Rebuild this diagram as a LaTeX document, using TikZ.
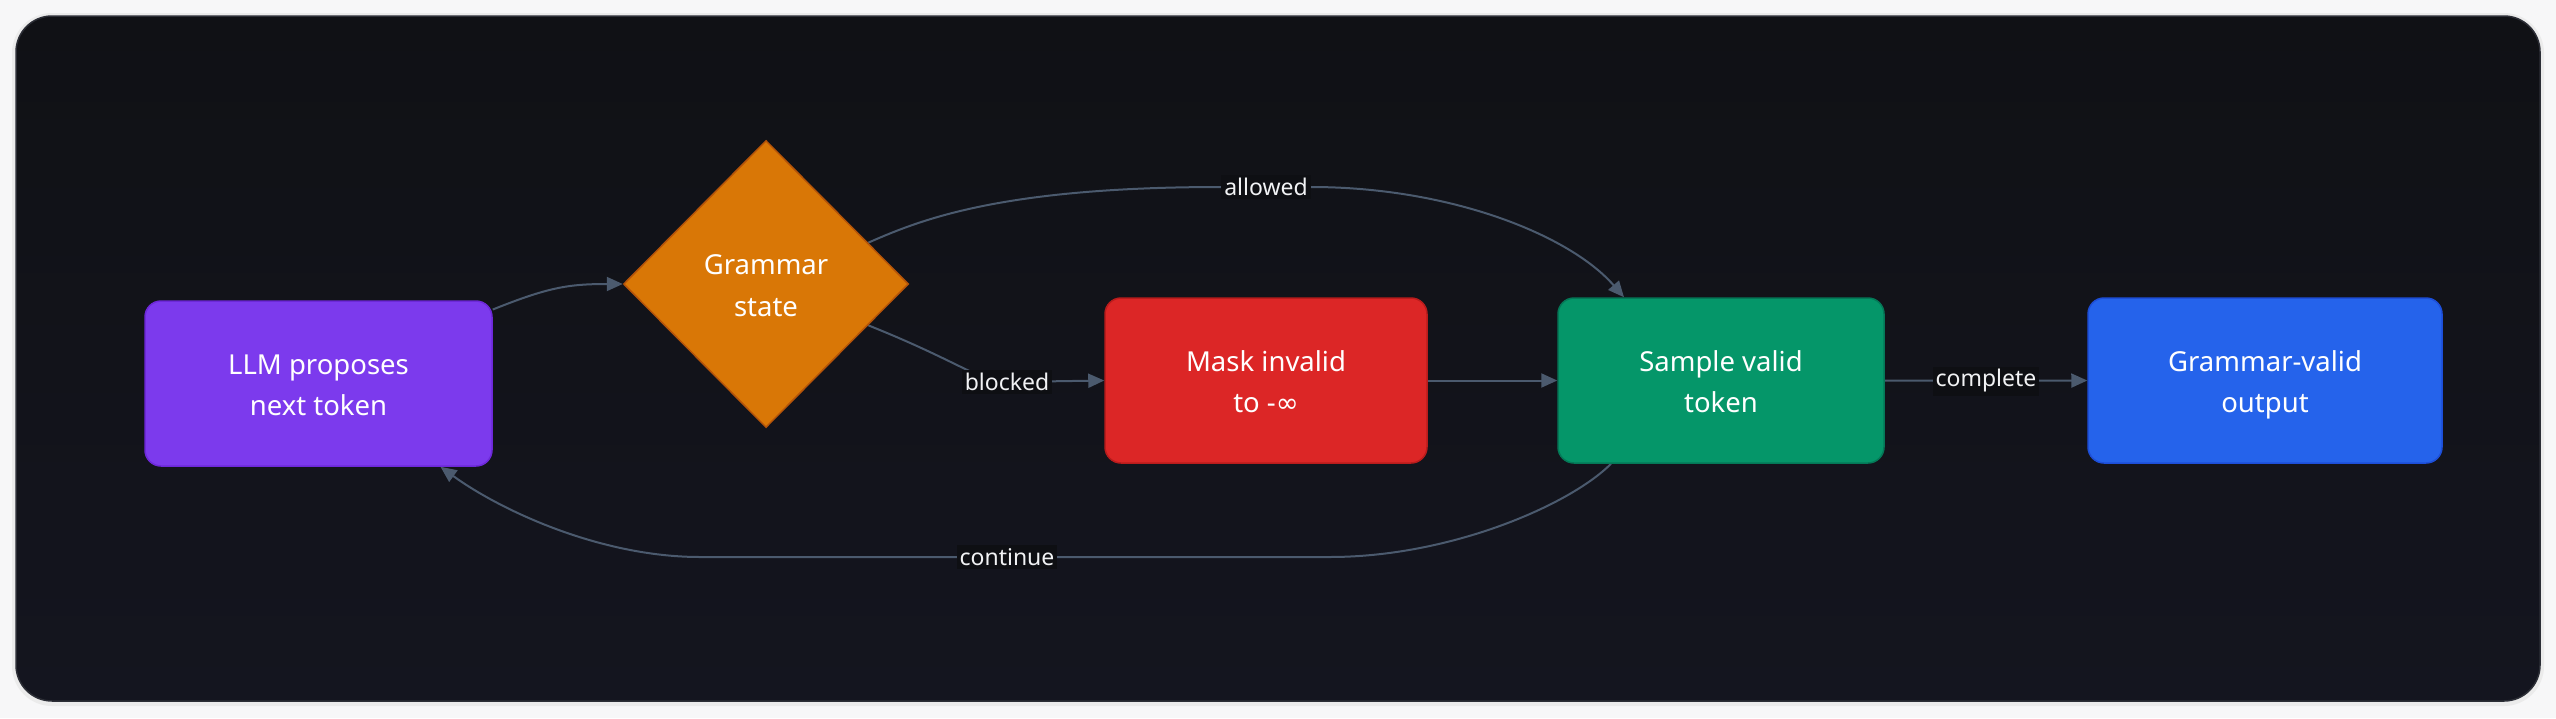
\documentclass[tikz,border=0pt]{standalone}
\usepackage{fontspec}
\setmainfont{Noto Sans}
\newfontfamily\symbfont{DejaVu Sans}
\usetikzlibrary{shapes.geometric,arrows.meta,calc}
\definecolor{pagebg}{HTML}{F7F7F8}
\definecolor{paneltop}{HTML}{101115}
\definecolor{panelbot}{HTML}{14151F}
\definecolor{panelrule}{HTML}{2C2E36}
\definecolor{edgecol}{HTML}{4B5A6E}
\definecolor{lblbg}{HTML}{0E0F13}
\definecolor{lbltext}{HTML}{F1F2F4}
\definecolor{cpurple}{HTML}{7C3AED}
\definecolor{bpurple}{HTML}{6D28D9}
\definecolor{corange}{HTML}{D97706}
\definecolor{borange}{HTML}{B45309}
\definecolor{cred}{HTML}{DC2626}
\definecolor{bred}{HTML}{B91C1C}
\definecolor{cgreen}{HTML}{059669}
\definecolor{bgreen}{HTML}{047857}
\definecolor{cblue}{HTML}{2563EB}
\definecolor{bblue}{HTML}{1D4ED8}
\newcommand\lowtext[1]{\raisebox{-3pt}[\height][\depth]{\begin{tabular}{@{}c@{}}#1\end{tabular}}}
\pgfdeclarelayer{bglayer}
\pgfdeclarelayer{edgelayer}
\pgfsetlayers{bglayer,edgelayer,main}
\tikzset{
  stepbox/.style={rectangle, rounded corners=16pt, minimum height=165pt,
    text=white, inner sep=0pt, line width=1.5pt,
    font=\fontsize{27.5}{41}\selectfont},
  decbox/.style={diamond, aspect=1, minimum width=285pt, minimum height=287pt,
    inner sep=0pt, text=white, line width=1.5pt,
    font=\fontsize{27.5}{42}\selectfont},
  lbl/.style={fill=lblbg, text=lbltext, inner sep=3pt,
    font=\fontsize{23}{26}\selectfont},
  edge/.style={draw=edgecol, line width=2pt, -{Triangle[length=16pt,width=14pt]}},
}
\begin{document}
\begin{tikzpicture}[x=1pt,y=-1pt]
\begin{pgfonlayer}{bglayer}
  \fill[pagebg] (0,0) rectangle (2556,718);
  \draw[line width=4pt, black!8, rounded corners=38pt] (14,15) rectangle (2542,704);
  \shade[top color=paneltop, bottom color=panelbot, rounded corners=36pt]
    (16,16) rectangle (2540,701);
  \draw[panelrule, line width=1.5pt, rounded corners=36pt] (16,16) rectangle (2540,701);
\end{pgfonlayer}

\node[stepbox, fill=cpurple, draw=bpurple, minimum width=347pt] (llm) at (318.5,383.5)
  {\lowtext{LLM proposes\\next token}};
\node[decbox, fill=corange, draw=borange] (gram) at (766,284) {\lowtext{Grammar\\state}};
\node[stepbox, fill=cred, draw=bred, minimum width=322pt] (mask) at (1266,380.5)
  {\lowtext{Mask invalid\\to -{\symbfont ∞}}};
\node[stepbox, fill=cgreen, draw=bgreen, minimum width=326pt] (samp) at (1721,380.5)
  {\lowtext{Sample valid\\token}};
\node[stepbox, fill=cblue, draw=bblue, minimum width=354pt] (out) at (2265,380.5)
  {\lowtext{Grammar-valid\\output}};

\node[lbl] (lallow) at (1266,187) {allowed};
\node[lbl] (lblock) at (1007,382) {blocked};
\node[lbl] (lcomp) at (1986,381) {complete};
\node[lbl] (lcont) at (1007,557) {continue};

\coordinate (allowtip) at ($(samp.north)+(-97,0)$);
\coordinate (contstart) at ($(samp.south)+(-110,0)$);
\coordinate (conttip) at ($(llm.south)+(122,0)$);

\begin{pgfonlayer}{edgelayer}
  \draw[edge] (llm.23) .. controls +(55,-22) and +(-55,0) .. (gram.west);
  \draw[edge] (gram.22) .. controls (920,220) and (1000,187) .. (lallow.west)
    -- (lallow.east) .. controls (1450,187) and (1570,235) .. (allowtip);
  \draw[edge] (gram.-22) .. controls (960,362) and (980,382) .. (lblock.center)
    -- (mask.west);
  \draw[edge] (mask.east) -- (samp.west);
  \draw[edge] (samp.east) -- (lcomp.center) -- (out.west);
  \draw[edge] (contstart) .. controls (1570,505) and (1450,557) .. (1330,557)
    -- (lcont.center) -- (700,557) .. controls (600,557) and (500,510) .. (conttip);
\end{pgfonlayer}
\end{tikzpicture}
\end{document}
